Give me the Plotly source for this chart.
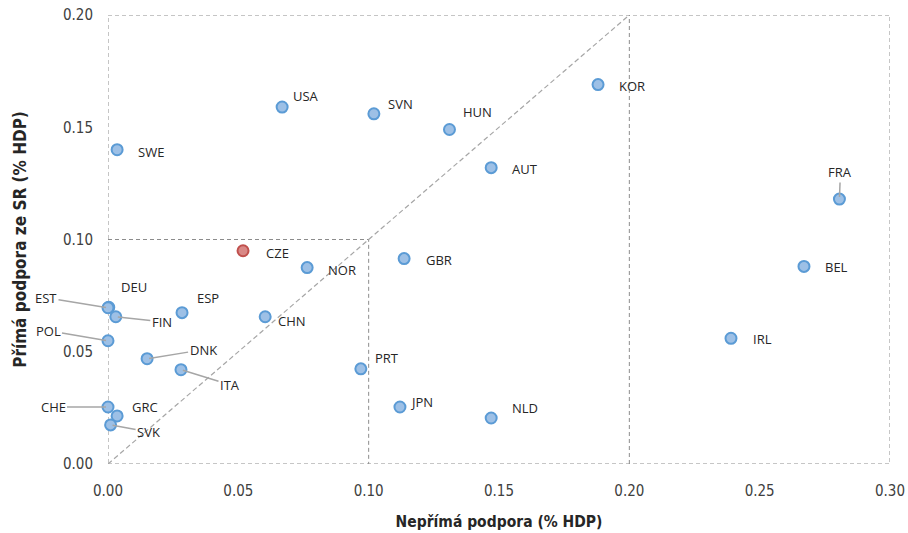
import plotly.graph_objects as go

# Data
countries = ["SWE", "USA", "SVN", "HUN", "AUT", "KOR", "FRA", "BEL", "IRL", "CZE",
             "NOR", "GBR", "CHN", "ESP", "DEU", "EST", "FIN", "POL", "DNK", "ITA",
             "CHE", "GRC", "SVK", "PRT", "JPN", "NLD"]
indirect = [0.0035, 0.0668, 0.102, 0.131, 0.147, 0.188, 0.2806, 0.267, 0.239, 0.0518,
            0.0764, 0.1136, 0.0603, 0.0284, 0.0003, 0.0, 0.003, 0.0, 0.015, 0.028,
            0.0, 0.0035, 0.001, 0.097, 0.112, 0.147]
direct = [0.140, 0.159, 0.156, 0.149, 0.132, 0.169, 0.118, 0.088, 0.056, 0.095,
          0.0875, 0.0915, 0.0656, 0.0674, 0.0698, 0.0696, 0.0656, 0.0549, 0.0469, 0.042,
          0.0254, 0.0214, 0.0174, 0.0424, 0.0254, 0.0205]
highlight = "CZE"

x_ticks = [0.00, 0.05, 0.10, 0.15, 0.20, 0.25, 0.30]
y_ticks = [0.00, 0.05, 0.10, 0.15, 0.20]

# Reference (dashed) lines: outer box, inner box, divider, diagonal
box_x = [0.0, 0.30, 0.30, 0.0, 0.0]
box_y = [0.0, 0.0, 0.20, 0.20, 0.0]
inner_x = [0.0, 0.10, 0.10]
inner_y = [0.10, 0.10, 0.0]
divider_x = [0.20, 0.20]
divider_y = [0.0, 0.20]
diag_x = [0.0, 0.20]
diag_y = [0.0, 0.20]

# Label placement (pixel offsets)
plain_labels = {
    "SWE": (19, -2), "USA": (9, 11), "SVN": (12, 10), "HUN": (12, 18), "AUT": (19, -1),
    "KOR": (19, -1), "CZE": (21, -2), "NOR": (19, -2), "GBR": (20, -1), "CHN": (11, -4),
    "ESP": (13, 15), "DEU": (10, 20), "PRT": (12, 11), "JPN": (8, 5), "NLD": (19, 10),
    "BEL": (19, -1), "IRL": (20, -1), "GRC": (13, 9),
}
leader_labels = {
    "EST": (-62, -10), "FIN": (46, 5), "POL": (-60, -10), "DNK": (56, -9),
    "ITA": (49, 15), "CHE": (-55, 0), "SVK": (38, 7), "FRA": (1, -27),
}

fig = go.Figure()

line_dark = dict(color="#8c8c8c", width=1, dash="4px,3px")
line_light = dict(color="#a6a6a6", width=1.2, dash="5px,3px")
for xs, ys, ln in [(box_x, box_y, line_dark), (inner_x, inner_y, line_dark),
                   (divider_x, divider_y, line_dark), (diag_x, diag_y, line_light)]:
    fig.add_trace(go.Scatter(x=xs, y=ys, mode="lines", line=ln, hoverinfo="skip",
                             showlegend=False, cliponaxis=False))

fills = ["#d98886" if c == highlight else "#9dc0e6" for c in countries]
borders = ["#c0504d" if c == highlight else "#5b9bd5" for c in countries]
fig.add_trace(go.Scatter(
    x=indirect, y=direct, mode="markers", text=countries, showlegend=False,
    marker=dict(size=11, color=fills, line=dict(color=borders, width=2)),
    cliponaxis=False,
))

label_font = dict(family="Open Sans, sans-serif", size=13, color="#262626")
annotations = []
for c, xv, yv in zip(countries, indirect, direct):
    if c in plain_labels:
        dx, dy = plain_labels[c]
        annotations.append(dict(x=xv, y=yv, text=c, showarrow=False, xanchor="left",
                                yanchor="middle", xshift=dx, yshift=dy, font=label_font))
    elif c in leader_labels:
        ax, ay = leader_labels[c]
        annotations.append(dict(x=xv, y=yv, text=c, showarrow=True, arrowhead=0,
                                arrowwidth=1.5, arrowcolor="#a6a6a6", ax=ax, ay=ay,
                                standoff=2, font=label_font))

narrow = "Liberation Sans Narrow, DejaVu Sans Condensed, Arial Narrow, sans-serif"
tick_font = dict(family=narrow, size=15, color="#404040")
x_title_font = dict(family=narrow, size=15.5, color="#262626")
y_title_font = dict(family=narrow, size=17, color="#262626")

fig.update_layout(
    width=908, height=533,
    margin=dict(l=108, r=18, t=15, b=69),
    paper_bgcolor="white", plot_bgcolor="white",
    annotations=annotations,
    xaxis=dict(range=[0, 0.30], tickvals=x_ticks, tickformat=".2f", showgrid=False,
               zeroline=False, showline=False, ticks="", tickfont=tick_font,
               ticklabelstandoff=16, automargin=False, ticklabeloverflow="allow",
               title=dict(text="<b>Nepřímá podpora (% HDP)</b>", font=x_title_font, standoff=17)),
    yaxis=dict(range=[0, 0.20], tickvals=y_ticks, tickformat=".2f", showgrid=False,
               zeroline=False, showline=False, ticks="", tickfont=tick_font,
               ticklabelstandoff=14, automargin=False, ticklabeloverflow="allow",
               title=dict(text="<b>Přímá podpora ze SR (% HDP)</b>", font=y_title_font, standoff=32)),
)

fig.write_html(
    "out.html",
    config={"displayModeBar": False},
    post_script="document.body.style.margin='0';document.body.style.overflow='hidden';",
)
